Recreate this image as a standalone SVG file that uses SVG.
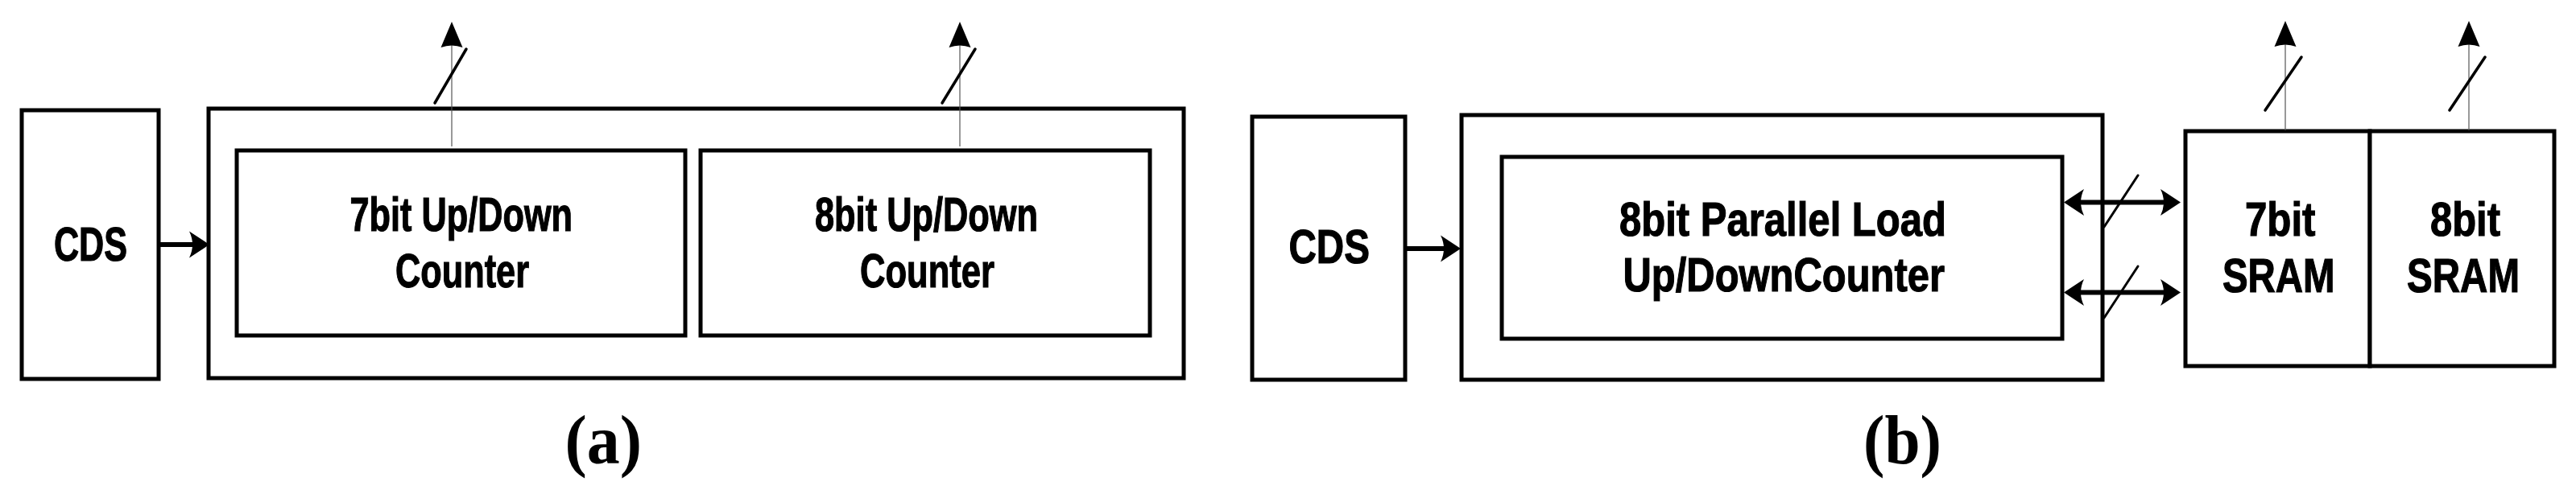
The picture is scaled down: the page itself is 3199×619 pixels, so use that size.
<svg xmlns="http://www.w3.org/2000/svg" width="3199" height="619" viewBox="0 0 3199 619">
<style>
.box{fill:#fff;stroke:#000;stroke-width:5}
.lbl{font-family:"Liberation Sans",Arial,sans-serif;font-weight:bold;font-size:60px;fill:#000;stroke:#000;stroke-width:1.2}
.cap{font-family:"Liberation Serif","Times New Roman",serif;font-weight:bold;font-size:87px;fill:#000}
.thin{stroke:#555;stroke-width:1.2;fill:none}
.thick{stroke:#000;stroke-width:6;fill:none}
.slash{stroke:#000;stroke-width:3.5;stroke-linecap:round;fill:none}
.slash2{stroke:#000;stroke-width:3;stroke-linecap:round;fill:none}
</style>
<defs>
<marker id="up" markerUnits="userSpaceOnUse" markerWidth="27" markerHeight="33" refX="13.500" refY="28" orient="0" overflow="visible">
<path d="M13.500 0L27 32Q13.500 27 0 32Z" fill="#000"/>
</marker>
<marker id="head" markerUnits="userSpaceOnUse" markerWidth="25" markerHeight="33" refX="6" refY="16.500" orient="auto-start-reverse" overflow="visible">
<path d="M0 0L25 16.500L0 33Q8 16.500 0 0Z" fill="#000"/>
</marker>
</defs>
<rect width="3199" height="619" fill="#fff"/>
<g id="a-cds"><rect class="box" x="27" y="137" width="170" height="334"/><text class="lbl" x="67" y="324" textLength="91" lengthAdjust="spacingAndGlyphs">CDS</text></g>
<g id="a-outer"><rect class="box" x="259" y="135" width="1211" height="335"/></g>
<g id="a-counter7"><rect class="box" x="294" y="187" width="557" height="230"/><text class="lbl" x="434.500" y="287" textLength="276.500" lengthAdjust="spacingAndGlyphs">7bit Up/Down</text><text class="lbl" x="491" y="357" textLength="166" lengthAdjust="spacingAndGlyphs">Counter</text></g>
<g id="a-counter8"><rect class="box" x="870" y="187" width="558" height="230"/><text class="lbl" x="1012" y="287" textLength="277" lengthAdjust="spacingAndGlyphs">8bit Up/Down</text><text class="lbl" x="1068" y="357" textLength="167" lengthAdjust="spacingAndGlyphs">Counter</text></g>
<g id="b-cds"><rect class="box" x="1555" y="145" width="190" height="327"/><text class="lbl" x="1600.500" y="327" textLength="100.500" lengthAdjust="spacingAndGlyphs">CDS</text></g>
<g id="b-outer"><rect class="box" x="1815" y="143" width="796" height="329"/></g>
<g id="b-counter"><rect class="box" x="1865" y="195" width="696" height="226"/><text class="lbl" x="2011" y="293" textLength="406" lengthAdjust="spacingAndGlyphs">8bit Parallel Load</text><text class="lbl" x="2015.500" y="362" textLength="399.500" lengthAdjust="spacingAndGlyphs">Up/DownCounter</text></g>
<g id="b-sram7"><rect class="box" x="2714" y="163" width="229" height="292"/><text class="lbl" x="2788" y="293" textLength="87.500" lengthAdjust="spacingAndGlyphs">7bit</text><text class="lbl" x="2760" y="363" textLength="139.500" lengthAdjust="spacingAndGlyphs">SRAM</text></g>
<g id="b-sram8"><rect class="box" x="2943" y="163" width="229" height="292"/><text class="lbl" x="3018" y="293" textLength="87" lengthAdjust="spacingAndGlyphs">8bit</text><text class="lbl" x="2989" y="363" textLength="140" lengthAdjust="spacingAndGlyphs">SRAM</text></g>
<g id="connectors">
<line class="thick" x1="197" y1="304" x2="241" y2="304" marker-end="url(#head)"/>
<line class="thick" x1="1745" y1="309" x2="1795" y2="309" marker-end="url(#head)"/>
<line class="thin" x1="561" y1="182" x2="561" y2="55" marker-end="url(#up)"/>
<line class="slash" x1="540" y1="128" x2="579" y2="61"/>
<line class="thin" x1="1192" y1="182" x2="1192" y2="55" marker-end="url(#up)"/>
<line class="slash" x1="1170" y1="128" x2="1211" y2="61"/>
<line class="thin" x1="2838" y1="162" x2="2838" y2="54" marker-end="url(#up)"/>
<line class="slash" x1="2813" y1="137" x2="2858" y2="71"/>
<line class="thin" x1="3066" y1="162" x2="3066" y2="54" marker-end="url(#up)"/>
<line class="slash" x1="3042" y1="137" x2="3086" y2="71"/>
<line class="thick" x1="2582" y1="251.500" x2="2689" y2="251.500" marker-start="url(#head)" marker-end="url(#head)"/>
<line class="thick" x1="2582" y1="363.500" x2="2689" y2="363.500" marker-start="url(#head)" marker-end="url(#head)"/>
<line class="slash2" x1="2613" y1="282" x2="2655" y2="218"/>
<line class="slash2" x1="2613" y1="395" x2="2655" y2="331"/>
</g>
<text class="cap" x="701.500" y="575.500" textLength="95.500" lengthAdjust="spacingAndGlyphs">(a)</text>
<text class="cap" x="2314" y="575.500" textLength="97" lengthAdjust="spacingAndGlyphs">(b)</text>
</svg>
